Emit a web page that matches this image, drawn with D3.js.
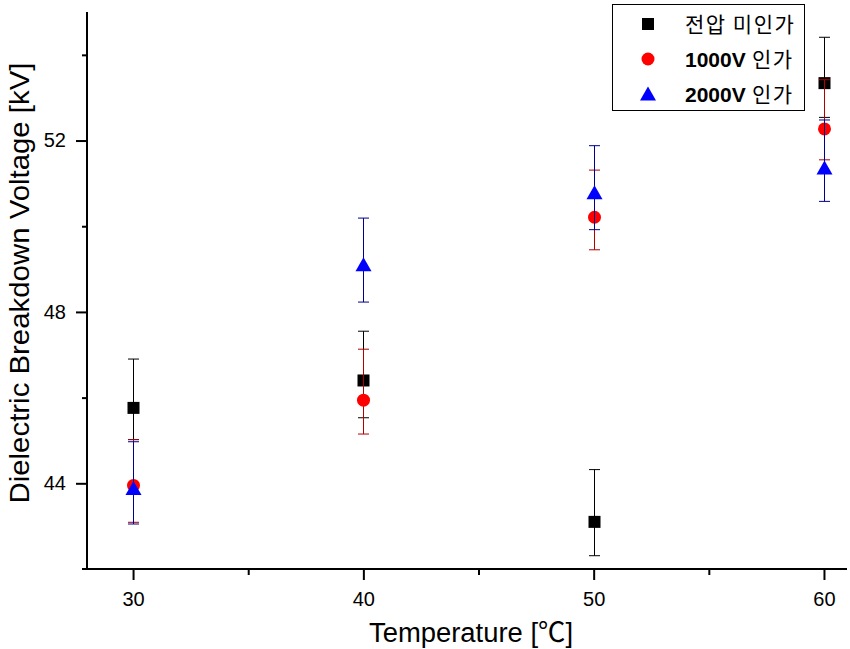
<!DOCTYPE html>
<html>
<head>
<meta charset="utf-8">
<script src="https://cdn.jsdelivr.net/npm/d3@7"></script>
<style>
  html, body { margin: 0; padding: 0; background: #fff; }
  svg { display: block; }
  text { font-family: "Liberation Sans", Arial, "Noto Sans CJK KR", sans-serif; }
</style>
</head>
<body>
<svg id="chart" width="850" height="649"></svg>
<script>
// ---- data ----
const temps = [30, 40, 50, 60];
const seriesNames = ["전압 미인가", "1000V 인가", "2000V 인가"];
const noVoltMean  = [45.76, 46.40, 43.10, 53.34];
const noVoltUpper = [46.90, 47.55, 44.32, 54.41];
const noVoltLower = [45.02, 45.53, 42.31, 52.54];
const v1000Mean   = [43.95, 45.94, 50.21, 52.27];
const v1000Upper  = [45.02, 47.13, 51.31, 53.42];
const v1000Lower  = [43.09, 45.15, 49.45, 51.55];
const v2000Mean   = [43.88, 49.10, 50.78, 51.36];
const v2000Upper  = [44.97, 50.19, 51.88, 52.48];
const v2000Lower  = [43.05, 48.23, 49.92, 50.58];
const xMajorTicks = [30, 40, 50, 60];
const xMinorTicks = [35, 45, 55];
const yMajorTicks = [44, 48, 52];
const yMinorTicks = [46, 50, 54];
const xTitle = "Temperature [℃]";
const yTitle = "Dielectric Breakdown Voltage [kV]";

const svg = d3.select("#chart");
const x = d3.scaleLinear().domain([28, 61]).range([87, 847]);
const y = d3.scaleLinear().domain([42, 55]).range([569, 12]);

// axes
const gx = svg.append("g").attr("transform", "translate(0,569)");
gx.call(d3.axisBottom(x).tickValues(xMajorTicks).tickSize(11).tickSizeOuter(0).tickPadding(12));
gx.append("g").call(d3.axisBottom(x).tickValues(xMinorTicks).tickSize(6).tickFormat(""));
gx.selectAll(".domain").remove();
gx.selectAll("line").attr("stroke", "#000").attr("stroke-width", 2);
gx.selectAll("text").attr("font-size", 20).attr("fill", "#000")
  .attr("font-family", "Liberation Sans, Arial, sans-serif");

const gy = svg.append("g").attr("transform", "translate(87,0)");
gy.call(d3.axisLeft(y).tickValues(yMajorTicks).tickSize(11).tickSizeOuter(0).tickPadding(10));
gy.append("g").call(d3.axisLeft(y).tickValues(yMinorTicks).tickSize(5).tickFormat(""));
gy.selectAll(".domain").remove();
gy.selectAll("line").attr("stroke", "#000").attr("stroke-width", 2);
gy.selectAll("text").attr("font-size", 20).attr("fill", "#000")
  .attr("font-family", "Liberation Sans, Arial, sans-serif");

svg.append("line").attr("x1", 87).attr("x2", 87).attr("y1", y(55)).attr("y2", y(42) + 1)
  .attr("stroke", "#000").attr("stroke-width", 2);
svg.append("line").attr("x1", 82).attr("x2", x(61)).attr("y1", y(42)).attr("y2", y(42))
  .attr("stroke", "#000").attr("stroke-width", 2);

// titles
svg.append("text").attr("x", 471).attr("y", 642).attr("text-anchor", "middle")
  .attr("font-size", 27).attr("textLength", 204).attr("lengthAdjust", "spacingAndGlyphs")
  .text(xTitle);
svg.append("text").attr("transform", "translate(29,283) rotate(-90)").attr("text-anchor", "middle")
  .attr("font-size", 28).attr("textLength", 441).attr("lengthAdjust", "spacingAndGlyphs")
  .text(yTitle);

// series
const series = [
  { mean: noVoltMean, up: noVoltUpper, lo: noVoltLower, fill: "#000000", bar: "#000000", shape: "square" },
  { mean: v1000Mean, up: v1000Upper, lo: v1000Lower, fill: "#ff0000", bar: "#b00000", shape: "circle" },
  { mean: v2000Mean, up: v2000Upper, lo: v2000Lower, fill: "#0000ff", bar: "#000090", shape: "triangle" }
];

function drawMarker(g, shape, cx, cy, fill) {
  if (shape === "square") {
    g.append("rect").attr("x", cx - 6).attr("y", cy - 6).attr("width", 12).attr("height", 12).attr("fill", fill);
  } else if (shape === "circle") {
    g.append("circle").attr("cx", cx).attr("cy", cy).attr("r", 6.5).attr("fill", fill);
  } else {
    g.append("path").attr("d", `M${cx},${cy - 7.5}L${cx + 8},${cy + 6.5}L${cx - 8},${cy + 6.5}Z`).attr("fill", fill);
  }
}

const plot = svg.append("g");
series.forEach(s => {
  const g = plot.append("g");
  temps.forEach((t, i) => {
    const cx = Math.round(x(t)) + 0.5;
    g.append("line").attr("x1", cx).attr("x2", cx).attr("y1", y(s.up[i])).attr("y2", y(s.lo[i]))
      .attr("stroke", s.bar).attr("stroke-width", 1);
    [s.up[i], s.lo[i]].forEach(v => {
      g.append("line").attr("x1", cx - 5.5).attr("x2", cx + 5.5).attr("y1", y(v)).attr("y2", y(v))
        .attr("stroke", s.bar).attr("stroke-width", 1);
    });
  });
  temps.forEach((t, i) => drawMarker(g, s.shape, Math.round(x(t)) + 0.5, y(s.mean[i]), s.fill));
});

// legend
const lg = svg.append("g");
lg.append("rect").attr("x", 612.5).attr("y", 4.5).attr("width", 192).attr("height", 106)
  .attr("fill", "#fff").attr("stroke", "#000").attr("stroke-width", 1);
const rowBase = [32, 67, 102];
series.forEach((s, i) => {
  drawMarker(lg, s.shape, 648, rowBase[i] - 8, s.fill);
  const t = lg.append("text").attr("x", 685).attr("y", rowBase[i]).attr("font-size", 21)
    .attr("font-family", "Liberation Sans, Arial, Noto Sans CJK KR, sans-serif");
  const parts = seriesNames[i].split(" ");
  if (i === 0) {
    t.append("tspan").attr("font-family", "Noto Sans CJK KR").attr("letter-spacing", 1.5).text(seriesNames[i]);
  } else {
    t.append("tspan").attr("font-weight", "bold").text(parts[0]);
    t.append("tspan").attr("font-family", "Noto Sans CJK KR").attr("letter-spacing", 1.5)
      .text(" " + parts.slice(1).join(" "));
  }
});
</script>
</body>
</html>
